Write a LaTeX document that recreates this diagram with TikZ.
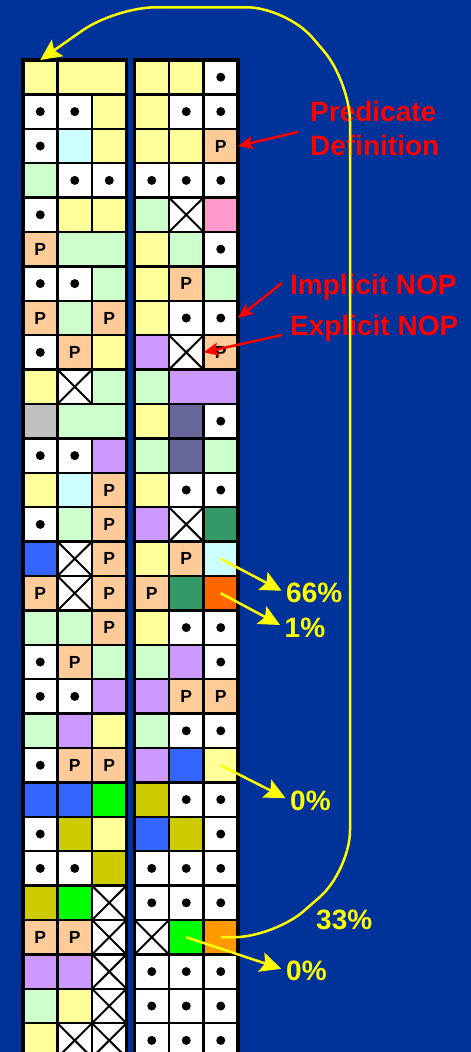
\documentclass[tikz,border=0pt]{standalone}
\usepackage{fontspec}
\setmainfont{Liberation Sans}
\usetikzlibrary{arrows.meta}
\definecolor{bg}{HTML}{003399}
\definecolor{lyel}{HTML}{FFFF99}
\definecolor{lgreen}{HTML}{CCFFCC}
\definecolor{lcyan}{HTML}{CCFFFF}
\definecolor{peach}{HTML}{FFCC99}
\definecolor{lav}{HTML}{CC99FF}
\definecolor{pinkc}{HTML}{FF99CC}
\definecolor{greyc}{HTML}{C0C0C0}
\definecolor{bluec}{HTML}{3366FF}
\definecolor{seagr}{HTML}{339966}
\definecolor{orred}{HTML}{FF6600}
\definecolor{slate}{HTML}{666699}
\definecolor{limec}{HTML}{00FF00}
\definecolor{olivec}{HTML}{CCCC00}
\definecolor{orangec}{HTML}{FF9900}
\definecolor{redc}{HTML}{FF0000}
\definecolor{yelc}{HTML}{FFFF00}
\def\txP{P}
\tikzset{
  gc/.style={draw=black, line width=2.5pt, minimum width=34.5pt, minimum height=34.4pt,
    inner sep=0pt, outer sep=0pt, anchor=center},
  tY/.style={fill=lyel}, tG/.style={fill=lgreen}, tC/.style={fill=lcyan},
  tV/.style={fill=lav}, tK/.style={fill=pinkc}, tA/.style={fill=greyc},
  tB/.style={fill=bluec}, tD/.style={fill=seagr}, tO/.style={fill=orred},
  tS/.style={fill=slate}, tL/.style={fill=limec}, tM/.style={fill=olivec},
  tN/.style={fill=orangec},
  tP/.style={fill=peach, text=black, font=\fontsize{17.5}{17.5}\selectfont\bfseries},
  tW/.style={fill=white, path picture={\fill[black] (path picture bounding box.center) circle (4.5pt);}},
  tX/.style={fill=white, path picture={\draw[black, line width=2pt]
      (path picture bounding box.south west) -- (path picture bounding box.north east)
      (path picture bounding box.north west) -- (path picture bounding box.south east);}},
  wide/.style={minimum width=69pt},
  redlbl/.style={text=redc, font=\fontsize{28}{33}\selectfont\bfseries, inner sep=0pt, anchor=base west},
  ylbl/.style={text=yelc, font=\fontsize{28}{33}\selectfont\bfseries, inner sep=0pt, anchor=base west},
  rarrow/.style={draw=redc, line width=2.5pt, -{Stealth[length=15pt,width=13pt,inset=3pt]}},
  yarrow/.style={draw=yelc, line width=2.5pt, shorten >=5pt, -{Stealth[length=21pt,width=20pt,inset=4pt]}},
  bigcurve/.style={draw=yelc, line width=2.5pt, rounded corners=40pt, -{Stealth[length=21pt,width=20pt,inset=4pt]}}
}
\newcommand\rowL[4]{%
  \node[gc,t#2] (L#1a) at (40.25,{77.2+34.4*#1}) {\csname tx#2\endcsname};
  \node[gc,t#3] (L#1b) at (74.75,{77.2+34.4*#1}) {\csname tx#3\endcsname};
  \node[gc,t#4] (L#1c) at (109.25,{77.2+34.4*#1}) {\csname tx#4\endcsname};}
\newcommand\rowR[4]{%
  \node[gc,t#2] (R#1a) at (151.75,{77.2+34.4*#1}) {\csname tx#2\endcsname};
  \node[gc,t#3] (R#1b) at (186.25,{77.2+34.4*#1}) {\csname tx#3\endcsname};
  \node[gc,t#4] (R#1c) at (220.75,{77.2+34.4*#1}) {\csname tx#4\endcsname};}
\begin{document}
\begin{tikzpicture}[x=1pt,y=-1pt]
\useasboundingbox (0,0) rectangle (471,1052);
\fill[bg] (0,0) rectangle (471,1052);
\clip (0,0) rectangle (471,1052);
% left grid
\node[gc,tY] (L0a) at (40.25,77.2) {};
\node[gc,tY,wide] (L0b) at (92,77.2) {};
\rowL{1}{W}{W}{Y}
\rowL{2}{W}{C}{Y}
\rowL{3}{G}{W}{W}
\rowL{4}{W}{Y}{Y}
\node[gc,tP] (L5a) at (40.25,{77.2+34.4*5}) {P};
\node[gc,tG,wide] (L5b) at (92,{77.2+34.4*5}) {};
\rowL{6}{W}{W}{G}
\rowL{7}{P}{G}{P}
\rowL{8}{W}{P}{Y}
\rowL{9}{Y}{X}{G}
\node[gc,tA] (L10a) at (40.25,{77.2+34.4*10}) {};
\node[gc,tG,wide] (L10b) at (92,{77.2+34.4*10}) {};
\rowL{11}{W}{W}{V}
\rowL{12}{Y}{C}{P}
\rowL{13}{W}{G}{P}
\rowL{14}{B}{X}{P}
\rowL{15}{P}{X}{P}
\rowL{16}{G}{G}{P}
\rowL{17}{W}{P}{G}
\rowL{18}{W}{W}{V}
\rowL{19}{G}{V}{Y}
\rowL{20}{W}{P}{P}
\rowL{21}{B}{B}{L}
\rowL{22}{W}{M}{Y}
\rowL{23}{W}{W}{M}
\rowL{24}{M}{L}{X}
\rowL{25}{P}{P}{X}
\rowL{26}{V}{V}{X}
\rowL{27}{G}{Y}{X}
\rowL{28}{Y}{X}{X}
% right grid
\rowR{0}{Y}{Y}{W}
\rowR{1}{Y}{W}{W}
\rowR{2}{Y}{Y}{P}
\rowR{3}{W}{W}{W}
\rowR{4}{G}{X}{K}
\rowR{5}{Y}{G}{W}
\rowR{6}{Y}{P}{G}
\rowR{7}{Y}{W}{W}
\rowR{8}{V}{X}{P}
\node[gc,tG] (R9a) at (151.75,{77.2+34.4*9}) {};
\node[gc,tV,wide] (R9b) at (203.5,{77.2+34.4*9}) {};
\rowR{10}{Y}{S}{W}
\rowR{11}{G}{S}{G}
\rowR{12}{Y}{W}{W}
\rowR{13}{V}{X}{D}
\rowR{14}{Y}{P}{C}
\rowR{15}{P}{D}{O}
\rowR{16}{Y}{W}{W}
\rowR{17}{G}{V}{W}
\rowR{18}{V}{P}{P}
\rowR{19}{G}{W}{W}
\rowR{20}{V}{B}{Y}
\rowR{21}{M}{W}{W}
\rowR{22}{B}{M}{W}
\rowR{23}{W}{W}{W}
\rowR{24}{W}{W}{W}
\rowR{25}{X}{L}{N}
\rowR{26}{W}{W}{W}
\rowR{27}{W}{W}{W}
\rowR{28}{W}{W}{W}
% outer borders
\draw[line width=3.5pt] (23,60) rectangle (126.5,1065);
\draw[line width=3.5pt] (134.5,60) rectangle (238,1065);
% red labels
\node[redlbl] (pd1) at (310,121.7) {Predicate};
\node[redlbl] (pd2) at (310,155) {Definition};
\node[redlbl] (imp) at (290,294) {Implicit NOP};
\node[redlbl] (exp) at (290,335) {Explicit NOP};
\coordinate (pdA) at (298,132);
\coordinate (impA) at (282,283);
\coordinate (expA) at (282,335);
\draw[rarrow] (pdA) -- (R2c.east);
\draw[rarrow] (impA) -- (R7c.east);
\draw[rarrow] (expA) -- (R8b.east);
% yellow labels
\node[ylbl] (p66) at (286,602.7) {66\%};
\node[ylbl] (p1) at (284.5,637) {1\%};
\node[ylbl] (p0a) at (290,810) {0\%};
\node[ylbl] (p33) at (316,929) {33\%};
\node[ylbl] (p0b) at (286,980) {0\%};
\draw[yarrow] (R14c.center) -- (p66.west);
\draw[yarrow] (R15c.center) -- (p1.west);
\draw[yarrow] (R20c.center) -- (p0a.west);
\draw[yarrow] (R25b.center) -- (p0b.west);
\draw[bigcurve] (R25c.center) -- (274,937.2) -- (350,870.5) -- (350,81.75) -- (286.6,7.3) -- (115.6,7.3) -- (L0a.north);
\end{tikzpicture}
\end{document}
